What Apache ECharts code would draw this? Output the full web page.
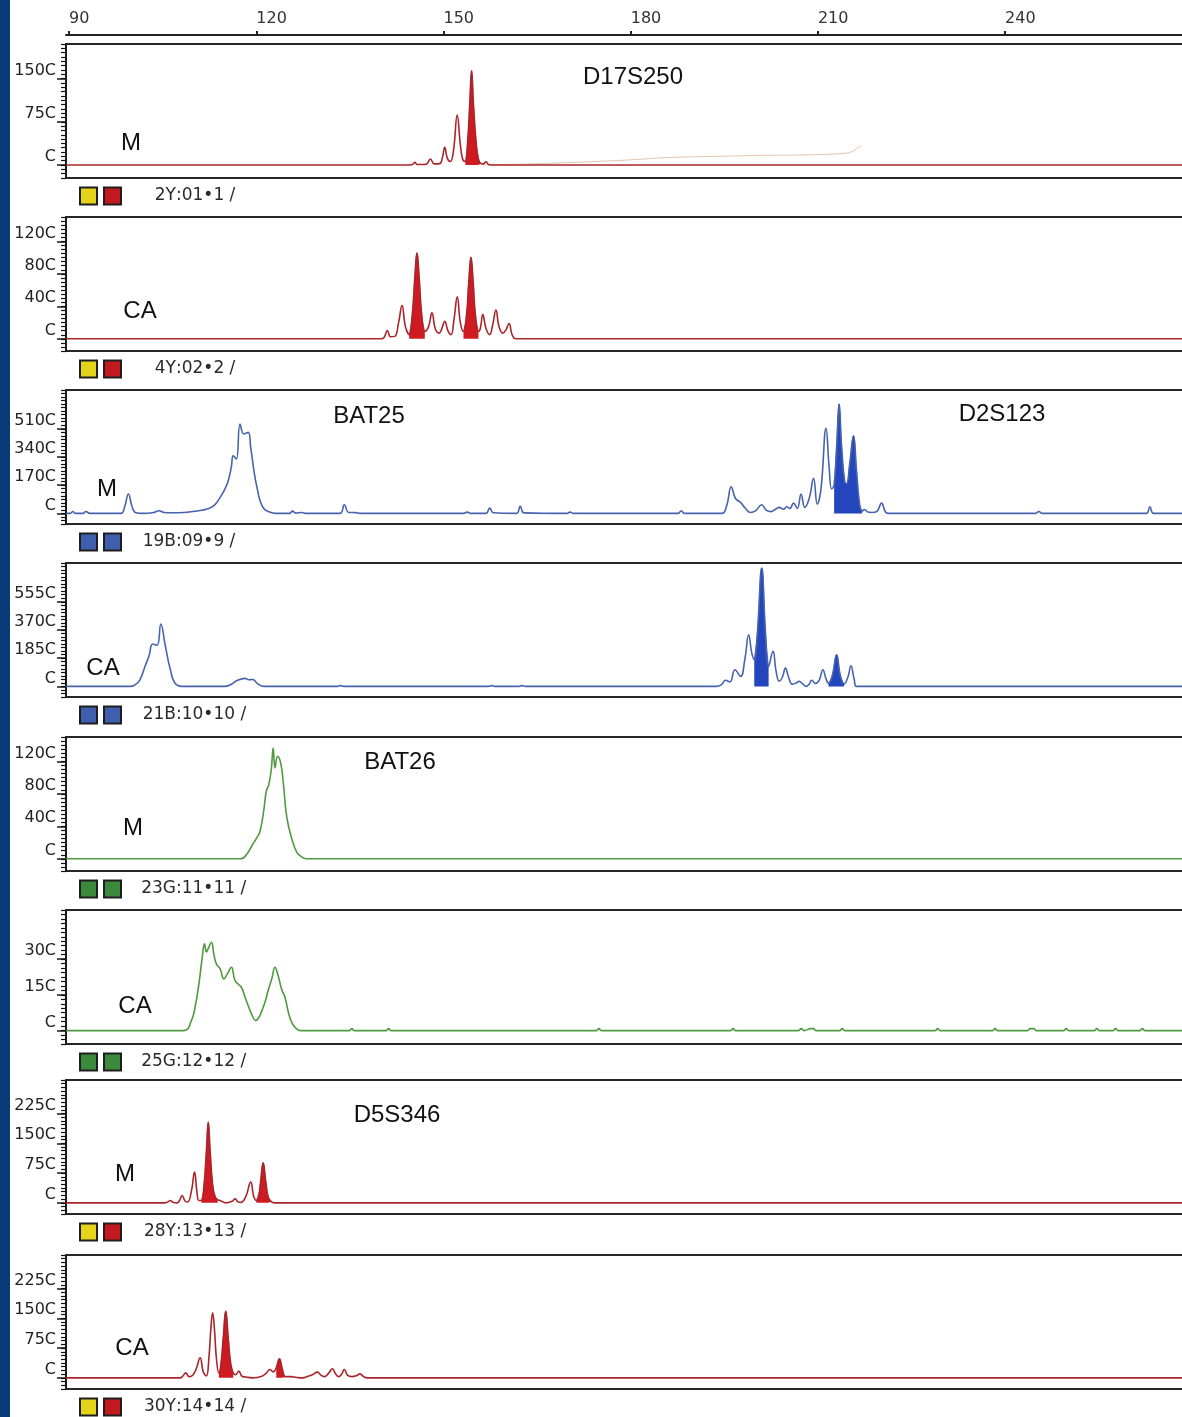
<!DOCTYPE html>
<html>
<head>
<meta charset="utf-8">
<script src="https://cdn.jsdelivr.net/npm/echarts@6/dist/echarts.min.js"></script>
<style>
  html, body { margin: 0; padding: 0; background: #ffffff; }
  #chart { width: 1182px; height: 1417px; }
</style>
</head>
<body>
<div id="chart"></div>
<script>
// Fragment size axis (bp)
const sizeMin = 89.5;
const sizeMax = 268.35;
const sizeTicks = [90, 120, 150, 180, 210, 240];

// Fluorescence tick values and their printed labels, per lane
const laneTickValues = [
  [0, 750, 1500],
  [0, 400, 800, 1200],
  [0, 1700, 3400, 5100],
  [0, 1850, 3700, 5550],
  [0, 400, 800, 1200],
  [0, 1500, 3000],
  [0, 750, 1500, 2250],
  [0, 750, 1500, 2250]
];
const laneTickLabels = [
  ['C', '75C', '150C'],
  ['C', '40C', '80C', '120C'],
  ['C', '170C', '340C', '510C'],
  ['C', '185C', '370C', '555C'],
  ['C', '40C', '80C', '120C'],
  ['C', '15C', '30C'],
  ['C', '75C', '150C', '225C'],
  ['C', '75C', '150C', '225C']
];

// Lane sample tags
const laneTags = ['2Y:01\u20221 /', '4Y:02\u20222 /', '19B:09\u20229 /', '21B:10\u202210 /',
                  '23G:11\u202211 /', '25G:12\u202212 /', '28Y:13\u202213 /', '30Y:14\u202214 /'];
const laneDyes = ['red', 'red', 'blue', 'blue', 'green', 'green', 'red', 'red'];

// Traces: [size (bp), fluorescence]
const d17s250M = [[89.5,0],[144.6,0],[145.1,15],[145.4,47],[145.8,8],[147.2,12],[147.9,104],[148.5,20],[149.4,25],[149.8,120],[150.2,307],[150.6,120],[151.1,60],[151.6,250],[152.2,868],[152.7,350],[153.1,90],[153.5,60],[153.9,450],[154.2,1050],[154.5,1636],[154.8,1050],[155.2,420],[155.6,100],[156.0,25],[156.4,20],[156.8,57],[157.3,5],[158.5,0],[268.35,0]];
const d17s250MFaint = [[156,0],[164,20],[172,50],[180,90],[186,130],[200,165],[214.8,208],[216.9,335]];
const d17s250CA = [[89.5,0],[140.0,0],[140.5,20],[141.0,102],[141.5,25],[142.2,30],[142.8,200],[143.35,410],[143.9,150],[144.5,50],[145.0,300],[145.4,750],[145.75,1058],[146.1,750],[146.5,300],[147.0,90],[147.6,150],[148.15,320],[148.7,120],[149.3,70],[149.7,120],[150.2,217],[150.7,100],[151.2,50],[151.7,250],[152.2,517],[152.7,200],[153.2,90],[153.7,300],[154.05,700],[154.4,1005],[154.75,700],[155.1,300],[155.6,90],[155.9,130],[156.3,299],[156.8,130],[157.4,50],[157.9,180],[158.4,353],[158.9,150],[159.5,70],[160.0,110],[160.5,189],[161.0,50],[161.6,0],[268.35,0]];
const bat25M = [[89.5,0],[90.2,0],[90.6,120],[91.0,0],[92.2,0],[92.7,120],[93.3,0],[98.3,0],[98.9,400],[99.5,1166],[100.1,400],[100.7,40],[101.8,0],[103.6,60],[104.4,160],[105.2,60],[106.5,40],[108.4,60],[110.5,150],[112.1,261],[113.3,500],[114.2,965],[115.0,1500],[115.5,1970],[116.0,2800],[116.3,3478],[116.8,3277],[117.4,5387],[118.0,4783],[118.7,4884],[119.1,3980],[119.7,2372],[120.2,1400],[120.6,764],[121.2,300],[121.9,120],[123.1,0],[125.3,0],[125.8,140],[126.3,20],[127.3,60],[128.0,0],[133.4,0],[134.1,523],[134.8,60],[136.0,50],[136.6,0],[153.2,0],[153.8,80],[154.4,0],[156.8,0],[157.4,322],[158.0,40],[161.7,0],[162.3,422],[162.9,30],[169.8,0],[170.3,80],[170.8,0],[187.6,0],[188.1,160],[188.6,0],[194.6,0],[195.4,500],[196.1,1608],[196.8,900],[197.6,663],[198.4,300],[199.2,60],[200.0,150],[201.0,523],[201.7,200],[202.5,110],[203.2,250],[203.8,362],[204.5,250],[205.0,400],[205.5,300],[206.1,620],[206.7,300],[207.3,1160],[207.9,362],[208.6,900],[209.3,2110],[209.9,560],[210.5,1500],[211.3,5125],[211.8,2800],[212.2,1470],[212.6,1700],[213.0,4000],[213.4,6590],[213.8,4000],[214.3,1900],[214.6,1800],[215.1,3000],[215.7,4683],[216.2,2500],[216.7,500],[217.1,150],[217.5,240],[218.0,80],[218.6,60],[219.4,100],[220.2,620],[220.8,100],[221.3,0],[244.9,0],[245.4,120],[245.9,0],[262.6,0],[263.2,400],[263.8,0],[268.35,0]];
const bat25CA = [[89.5,0],[99.8,0],[100.4,60],[101.3,400],[102.2,1355],[102.8,2000],[103.4,2777],[104.1,2700],[104.7,4090],[105.4,2700],[106.2,1137],[107.1,150],[108.4,0],[114.9,0],[115.7,80],[117.0,400],[118.2,525],[118.8,440],[119.4,450],[120.3,150],[121.2,0],[133.0,0],[133.5,50],[134.0,0],[157.2,0],[157.7,50],[158.2,0],[162.1,0],[162.6,50],[163.1,0],[193.7,0],[194.5,100],[195.2,400],[195.9,300],[196.7,1093],[197.6,656],[198.3,1800],[198.9,3389],[199.4,2200],[199.8,1750],[200.3,3500],[201.0,7763],[201.6,3500],[202.1,1300],[202.8,2296],[203.3,1000],[203.8,350],[204.3,600],[204.8,1203],[205.3,600],[205.9,150],[206.4,200],[207.0,330],[207.6,150],[208.1,0],[208.6,150],[209.0,400],[209.6,200],[210.2,400],[210.8,1093],[211.3,500],[211.7,200],[212.3,700],[213.0,2077],[213.6,700],[214.2,160],[214.8,600],[215.3,1355],[215.8,500],[216.2,0],[268.35,0]];
const bat26M = [[89.5,0],[117.5,0],[118.5,60],[119.4,176],[120.0,250],[120.6,340],[121.2,600],[121.6,832],[122.0,914],[122.4,1100],[122.7,1365],[123.0,1120],[123.4,1263],[123.9,1181],[124.3,955],[124.9,504],[125.8,217],[126.5,80],[127.1,33],[128.0,0],[268.35,0]];
const bat26CA = [[89.5,0],[108.4,0],[109.6,420],[110.2,1000],[110.8,1960],[111.3,3000],[111.7,3640],[112.0,3300],[112.3,3450],[112.8,3710],[113.2,3200],[113.6,2800],[114.2,2590],[114.8,2170],[115.4,2400],[116.0,2660],[116.6,2100],[117.6,1820],[118.2,1400],[118.8,980],[119.4,600],[119.9,420],[120.4,550],[120.9,840],[121.4,1200],[121.9,1680],[122.5,2200],[123.0,2660],[123.4,2400],[123.7,2100],[124.1,1700],[124.6,1400],[125.2,700],[125.8,280],[126.5,60],[127.1,0],[134.9,0],[135.3,84],[135.7,0],[140.8,0],[141.2,84],[141.6,0],[174.5,0],[174.9,84],[175.3,0],[196.0,0],[196.4,84],[196.8,0],[206.9,0],[207.3,84],[207.8,0],[208.9,84],[209.3,84],[209.7,0],[213.5,0],[213.9,84],[214.3,0],[228.8,0],[229.2,84],[229.6,0],[238.0,0],[238.4,84],[238.8,0],[243.6,0],[244.0,84],[244.6,84],[245.0,0],[249.4,0],[249.8,84],[250.2,0],[254.3,0],[254.7,84],[255.1,0],[257.3,0],[257.7,84],[258.1,0],[261.6,0],[262.0,84],[262.4,0],[268.35,0]];
const d5s346M = [[89.5,0],[105.3,0],[105.8,20],[106.2,59],[106.7,10],[107.3,0],[107.7,60],[108.1,185],[108.6,40],[109.0,20],[109.6,300],[110.1,773],[110.5,250],[110.8,60],[111.2,60],[111.6,400],[112.0,1300],[112.3,2033],[112.6,1300],[113.0,450],[113.4,150],[113.8,80],[114.2,59],[115.1,0],[116.1,40],[116.6,100],[117.1,20],[117.5,10],[118.3,150],[119.1,521],[119.6,150],[120.0,60],[120.4,200],[120.7,550],[121.1,1008],[121.5,550],[121.9,150],[122.4,30],[122.9,0],[268.35,0]];
const d5s346CA = [[89.5,0],[107.8,0],[108.2,40],[108.7,125],[109.2,30],[109.6,40],[110.3,200],[111.0,504],[111.5,150],[112.0,50],[112.4,500],[112.7,1200],[113.0,1638],[113.3,1200],[113.6,500],[114.0,120],[114.3,300],[114.7,1000],[115.1,1680],[115.5,1000],[115.9,350],[116.3,120],[116.7,80],[117.2,168],[117.7,40],[118.3,20],[119.4,0],[120.9,40],[121.6,120],[122.2,210],[122.7,150],[123.2,250],[123.7,479],[124.2,200],[124.6,30],[125.5,30],[126.5,10],[127.4,0],[128.3,40],[129.0,80],[129.8,143],[130.4,60],[130.9,30],[131.6,120],[132.2,227],[132.7,100],[133.2,30],[133.7,100],[134.1,210],[134.6,70],[135.3,30],[136.0,50],[136.6,100],[137.2,30],[137.8,0],[268.35,0]];

// Called allele peaks (size ranges shown filled)
const laneTraces = [d17s250M, d17s250CA, bat25M, bat25CA, bat26M, bat26CA, d5s346M, d5s346CA];
const laneFills = [
  [[153.5, 156.0]],
  [[144.5, 147.0], [153.2, 155.6]],
  [[212.6, 217.1]],
  [[199.8, 202.1], [211.7, 214.2]],
  [],
  [],
  [[111.2, 113.8], [120.0, 122.4]],
  [[114.0, 116.3], [123.2, 124.6]]
];

// Lane layout
const laneTop = [44, 217, 390, 563, 737, 910, 1080, 1255];
const laneHeight = 134;
const plotLeft = 66;
const plotWidth = 1116;
const laneRange = [
  { min: -225, max: 2100, minor: 75 },
  { min: -150, max: 1500, minor: 50 },
  { min: -637.5, max: 7437.5, minor: 212.5 },
  { min: -693.75, max: 8093.75, minor: 231.25 },
  { min: -150, max: 1500, minor: 50 },
  { min: -562.5, max: 5062.5, minor: 187.5 },
  { min: -281.25, max: 3093.75, minor: 93.75 },
  { min: -281.25, max: 3093.75, minor: 93.75 }
];
const dyeStyle = {
  red:   { line: '#a8262b', fill: '#cf1a22', box: ['#e3d31a', '#c41a1f'] },
  blue:  { line: '#4763ad', fill: '#2346bd', box: ['#3f5fae', '#3f5fae'] },
  green: { line: '#4f9a40', fill: '#3f8f34', box: ['#3b8a3b', '#3b8a3b'] }
};
// Marker / locus captions: [text, centre x, centre y]
const captions = [
  ['M', 131, 143], ['D17S250', 633, 77],
  ['CA', 140, 311],
  ['M', 107, 489], ['BAT25', 369, 416], ['D2S123', 1002, 414],
  ['CA', 103, 668],
  ['M', 133, 828], ['BAT26', 400, 762],
  ['CA', 135, 1006],
  ['M', 125, 1174], ['D5S346', 397, 1115],
  ['CA', 132, 1348]
];

const frameLine = { show: true, onZero: false, lineStyle: { color: '#262626', width: 2 } };
const grids = [{ left: plotLeft, width: plotWidth, top: 35, height: 1 }];
const xAxes = [{
  type: 'value', gridIndex: 0, position: 'top', min: sizeMin, max: sizeMax,
  axisLine: { show: true, onZero: false, lineStyle: { color: '#222', width: 2 } },
  axisTick: { show: true, length: 4, customValues: sizeTicks, lineStyle: { color: '#222', width: 2 } },
  axisLabel: { show: true, customValues: sizeTicks, align: 'left', margin: 8,
               fontFamily: 'DejaVu Sans', fontSize: 16, color: '#333' },
  splitLine: { show: false }
}];
const yAxes = [{ type: 'value', gridIndex: 0, show: false }];
const series = [];

laneTop.forEach((top, i) => {
  const g = i + 1;
  const r = laneRange[i];
  const dye = dyeStyle[laneDyes[i]];
  grids.push({ left: plotLeft, width: plotWidth, top: top, height: laneHeight, show: false });
  // lane frame: bottom and top edges
  const bottomAxisIdx = xAxes.length;
  xAxes.push({ type: 'value', gridIndex: g, position: 'bottom', min: sizeMin, max: sizeMax,
               axisLine: frameLine, axisTick: { show: false }, axisLabel: { show: false }, splitLine: { show: false } });
  xAxes.push({ type: 'value', gridIndex: g, position: 'top', min: sizeMin, max: sizeMax,
               axisLine: frameLine, axisTick: { show: false }, axisLabel: { show: false }, splitLine: { show: false } });
  const vals = laneTickValues[i];
  const labs = laneTickLabels[i];
  const majorIdx = yAxes.length;
  yAxes.push({
    type: 'value', gridIndex: g, position: 'left', min: r.min, max: r.max,
    axisLine: { show: true, onZero: false, lineStyle: { color: '#1a1a1a', width: 2 } },
    axisTick: { show: true, length: 9, customValues: vals, lineStyle: { color: '#1a1a1a', width: 1.5 } },
    axisLabel: { show: true, customValues: vals, margin: 10, verticalAlign: 'bottom',
                 fontFamily: 'DejaVu Sans', fontSize: 16, color: '#222',
                 formatter: v => { const k = vals.indexOf(v); return k >= 0 ? labs[k] : ''; } },
    splitLine: { show: false }
  });
  // ruler of fine ticks along the lane's left edge
  yAxes.push({
    type: 'value', gridIndex: g, position: 'left', offset: 0, min: r.min, max: r.max, interval: r.minor,
    axisLine: { show: false, onZero: false },
    axisTick: { show: true, length: 5, lineStyle: { color: '#111', width: 1.2 } },
    axisLabel: { show: false },
    splitLine: { show: false }
  });
  const trace = laneTraces[i];
  laneFills[i].forEach(([a, b]) => {
    series.push({
      type: 'line', xAxisIndex: bottomAxisIdx, yAxisIndex: majorIdx,
      data: trace.filter(p => p[0] >= a && p[0] <= b),
      smooth: 0.45, symbol: 'none', silent: true, z: 2,
      lineStyle: { width: 0.6, color: dye.fill },
      areaStyle: { color: dye.fill, opacity: 1, origin: 'auto' }
    });
  });
  series.push({
    type: 'line', xAxisIndex: bottomAxisIdx, yAxisIndex: majorIdx, data: trace,
    smooth: 0.45, symbol: 'none', silent: true, z: 3,
    lineStyle: { width: 1.6, color: dye.line }
  });
  if (i === 0) {
    series.push({
      type: 'line', xAxisIndex: bottomAxisIdx, yAxisIndex: majorIdx, data: d17s250MFaint,
      smooth: 0.3, symbol: 'none', silent: true, z: 1,
      lineStyle: { width: 1, color: '#dcb08c', opacity: 0.75 }
    });
  }
});

// Page decorations: side band, captions, lane dye boxes and tags
const graphics = [{ type: 'rect', shape: { x: 0, y: 0, width: 10, height: 1417 }, style: { fill: '#0b3a78' }, z: 10 }];
captions.forEach(([t, x, y]) => {
  graphics.push({ type: 'text', x: x, y: y, z: 10,
    style: { text: t, fill: '#111', fontFamily: 'Liberation Sans', fontSize: 24, align: 'center', verticalAlign: 'middle' } });
});
laneTop.forEach((top, i) => {
  const dye = dyeStyle[laneDyes[i]];
  const cy = top + laneHeight + 18;
  [[80, dye.box[0]], [104, dye.box[1]]].forEach(([bx, c]) => {
    graphics.push({ type: 'rect', z: 10, shape: { x: bx, y: cy - 8.5, width: 17, height: 17 },
      style: { fill: c, stroke: '#1e1e1e', lineWidth: 2 } });
  });
  const tag = laneTags[i];
  const cut = tag.indexOf(':');
  graphics.push({ type: 'text', x: 176, y: cy, z: 10,
    style: { text: tag.slice(0, cut), fill: '#2a2a2a', fontFamily: 'DejaVu Sans', fontSize: 17, align: 'right', verticalAlign: 'middle' } });
  graphics.push({ type: 'text', x: 176, y: cy, z: 10,
    style: { text: tag.slice(cut), fill: '#2a2a2a', fontFamily: 'DejaVu Sans', fontSize: 17, align: 'left', verticalAlign: 'middle' } });
});

const chart = echarts.init(document.getElementById('chart'), null, { renderer: 'canvas' });
chart.setOption({
  animation: false,
  backgroundColor: '#ffffff',
  grid: grids,
  xAxis: xAxes,
  yAxis: yAxes,
  series: series,
  graphic: graphics
});
</script>
</body>
</html>
